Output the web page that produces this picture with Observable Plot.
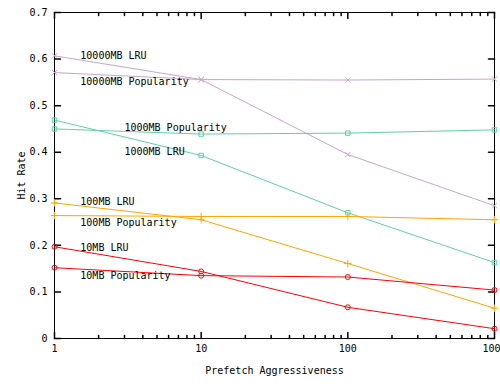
<!DOCTYPE html>
<html><head><meta charset="utf-8">
<script src="https://cdn.jsdelivr.net/npm/d3@7"></script>
<script src="https://cdn.jsdelivr.net/npm/@observablehq/plot@0.6"></script>
<style>body{margin:0;background:#fff;overflow:hidden}</style>
</head><body><div id="chart"></div>
<script>
const xValues = [1, 10, 100, 1000];
const xMinorTicks = [2,3,4,5,6,7,8,9,20,30,40,50,60,70,80,90,200,300,400,500,600,700,800,900];
const yTicks = [0, 0.1, 0.2, 0.3, 0.4, 0.5, 0.6, 0.7];

const seriesNames = ["10000MB LRU", "10000MB Popularity", "1000MB Popularity", "1000MB LRU",
                     "100MB LRU", "100MB Popularity", "10MB LRU", "10MB Popularity"];
const lru10000 = [0.607, 0.556, 0.395, 0.285];
const pop10000 = [0.571, 0.556, 0.555, 0.557];
const pop1000  = [0.450, 0.439, 0.441, 0.448];
const lru1000  = [0.469, 0.393, 0.270, 0.163];
const lru100   = [0.291, 0.255, 0.161, 0.065];
const pop100   = [0.264, 0.262, 0.262, 0.255];
const lru10    = [0.197, 0.144, 0.067, 0.021];
const pop10    = [0.152, 0.135, 0.132, 0.104];
const seriesValues = [lru10000, pop10000, pop1000, lru1000, lru100, pop100, lru10, pop10];
const seriesColors = ["#c6a6ca", "#c6a6ca", "#5fd0a8", "#5fd0a8", "#ffa500", "#ffa500", "#ff0000", "#ff0000"];
const seriesSymbols = ["times", "times", "square", "square", "plus", "plus", "circle", "circle"];

const labelTexts = seriesNames;
const labelX = [1.5, 1.5, 3.0, 3.0, 1.5, 1.5, 1.5, 1.5];
const labelY = [0.607, 0.551, 0.453, 0.400, 0.2925, 0.249, 0.195, 0.134];

const rows = [];
seriesNames.forEach((s, i) => xValues.forEach((x, j) => rows.push({series: s, x, y: seriesValues[i][j]})));
const labels = labelTexts.map((t, i) => ({text: t, x: labelX[i], y: labelY[i]}));

const tickShape = {draw(ctx, l) { ctx.moveTo(0, 0); ctx.lineTo(0, -l); }};
const tk = {anchor: "start", shape: tickShape, stroke: "black"};

const chart = Plot.plot({
  width: 500, height: 386,
  marginLeft: 54, marginRight: 6, marginTop: 12, marginBottom: 48,
  style: {fontFamily: "DejaVu Sans Mono", fontSize: "10px", background: "white", color: "black"},
  x: {type: "log", domain: [1, 1000]},
  y: {domain: [0, 0.7]},
  color: {domain: seriesNames, range: seriesColors},
  symbol: {domain: seriesNames, range: seriesSymbols},
  marks: [
    Plot.frame({stroke: "black"}),
    Plot.vector(xValues, {x: d => d, y: 0, length: 6, rotate: 0, ...tk}),
    Plot.vector(xValues, {x: d => d, y: 0.7, length: 6, rotate: 180, ...tk}),
    Plot.vector(xMinorTicks, {x: d => d, y: 0, length: 3, rotate: 0, ...tk}),
    Plot.vector(xMinorTicks, {x: d => d, y: 0.7, length: 3, rotate: 180, ...tk}),
    Plot.vector(yTicks, {x: 1, y: d => d, length: 6, rotate: 90, ...tk}),
    Plot.vector(yTicks, {x: 1000, y: d => d, length: 6, rotate: 270, ...tk}),
    Plot.axisX({ticks: xValues, tickSize: 0, tickPadding: 6, tickFormat: d => String(d),
      label: "Prefetch Aggressiveness", labelAnchor: "center", labelArrow: false, labelOffset: 35}),
    Plot.axisY({ticks: yTicks, tickSize: 0, tickPadding: 7, tickFormat: d => d === 0 ? "0" : d.toFixed(1),
      label: "Hit Rate", labelAnchor: "center", labelArrow: false, labelOffset: 37}),
    Plot.line(rows, {x: "x", y: "y", z: "series", stroke: "series", strokeWidth: 1}),
    Plot.dot(rows, {x: "x", y: "y", stroke: "series", symbol: "series", r: 2.5, strokeWidth: 1}),
    Plot.text(labels, {x: "x", y: "y", text: "text", textAnchor: "start", fill: "black"})
  ]
});
document.getElementById("chart").appendChild(chart);
</script>
</body></html>
